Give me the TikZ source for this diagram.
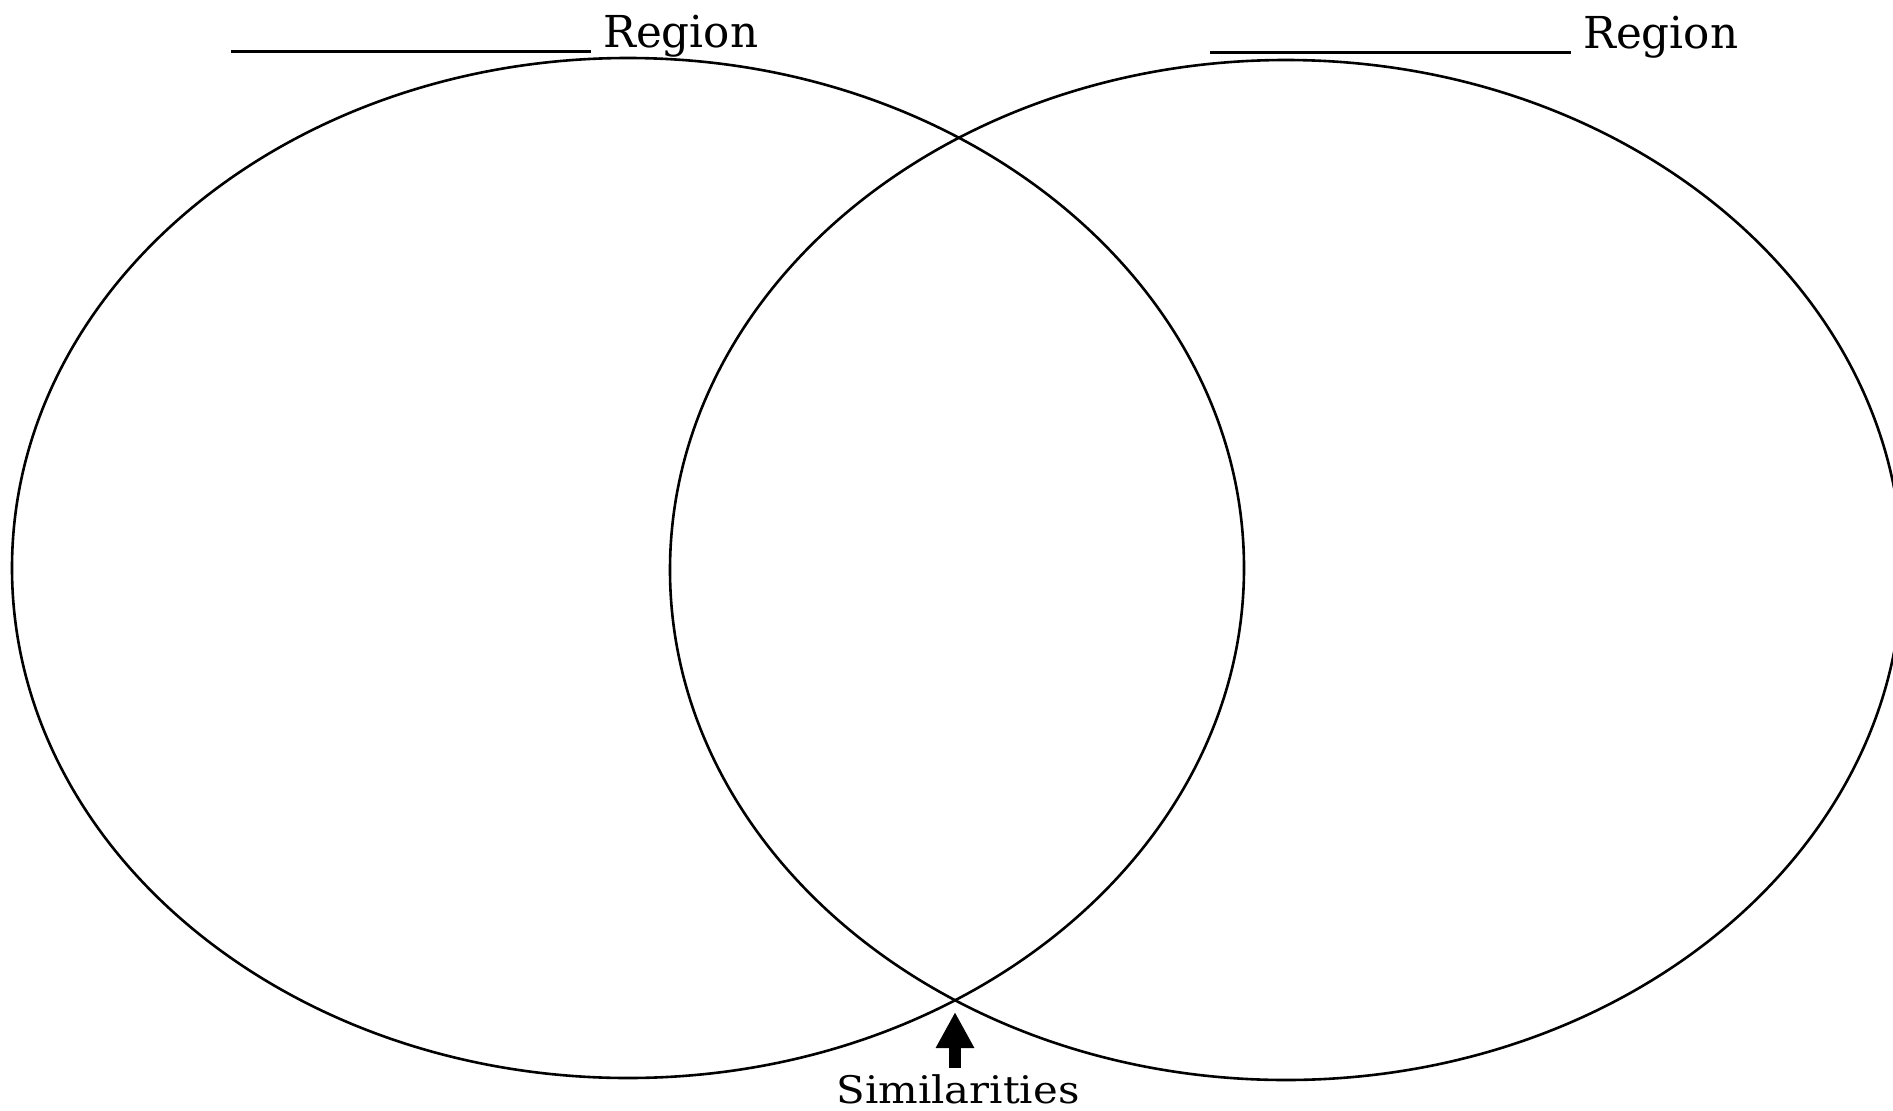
\documentclass[tikz,border=0pt]{standalone}
\usepackage{fontspec}
\setmainfont{DejaVu Serif}
\usetikzlibrary{arrows.meta}
\begin{document}
\begin{tikzpicture}[x=1pt,y=-1pt,
  ring/.style={draw=black,line width=2.6pt},
  lbl/.style={inner sep=0pt,anchor=base west,font=\fontsize{44}{50}\selectfont},
  simlbl/.style={inner sep=0pt,anchor=base,font=\fontsize{38}{44}\selectfont},
  pointer/.style={line width=12pt,-{Triangle[width=36pt,length=36pt]}}]
\useasboundingbox (0,0) rectangle (1893,1111);
\begin{scope}
\clip (0,0) rectangle (1893,1111);
\draw[ring] (628,568) ellipse [x radius=616, y radius=510];
\draw[ring] (1286,570) ellipse [x radius=616, y radius=510];
\end{scope}
\node[lbl] (left) at (231,47) {\rule[-5.5pt]{360pt}{2.5pt}\hspace{12pt}\resizebox{155pt}{\height}{Region}};
\node[lbl] (right) at (1210,48) {\rule[-5.5pt]{361pt}{2.5pt}\hspace{12pt}\resizebox{155pt}{\height}{Region}};
\node[simlbl] (sim) at (958,1103) {\resizebox{243pt}{\height}{Similarities}};
\coordinate (tail) at (955,1068);
\coordinate (tip) at (955,1012);
\draw[pointer] (tail) -- (tip);
\end{tikzpicture}
\end{document}
